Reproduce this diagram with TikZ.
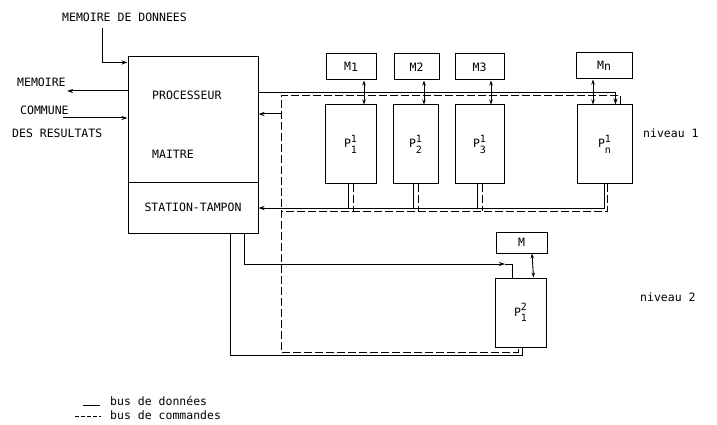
\documentclass[tikz,border=0pt]{standalone}
\usepackage{amsmath}
\usepackage{fontspec}
\setmainfont{DejaVu Sans Mono}
\usetikzlibrary{arrows.meta, positioning, calc}

\newcommand{\procidx}[2]{P\rlap{\raisebox{5.5pt}{\fontsize{10}{10}\selectfont #1}}\raisebox{-5.5pt}{\fontsize{10}{10}\selectfont #2}}
\newcommand{\memidx}[1]{M\lower1.5pt\hbox{#1}}

\begin{document}
\begin{tikzpicture}[x=1pt, y=-1pt,
  font=\fontsize{11.5}{13}\selectfont,
  blk/.style={draw, line width=1pt, inner sep=0pt},
  bus/.style={line width=1pt},
  cmd/.style={line width=1pt, dash pattern=on 8pt off 3pt},
  lbl/.style={inner sep=0pt},
  arr/.style={-{Stealth[length=6pt, width=4pt]}},
  darr/.style={line width=0.9pt, {Stealth[length=5pt, width=3.5pt]}-{Stealth[length=5pt, width=3.5pt]}}
]
\useasboundingbox (0,0) rectangle (717,425);

% Master processor
\node[blk, minimum width=130pt, minimum height=125pt] (proc) at (193,119.5) {};
\node[blk, minimum width=130pt, minimum height=51pt] (stat) at (193,207.5) {STATION-TAMPON};
\node[lbl, anchor=west] (tproc) at (152,95) {PROCESSEUR};
\node[lbl, anchor=west] (tmait) at (152,154) {MAITRE};

% Outside labels
\node[lbl, anchor=west] (tmd) at (62,17) {MEMOIRE DE DONNEES};
\node[lbl, anchor=west] (tmem) at (17,82) {MEMOIRE};
\node[lbl, anchor=west] (tcom) at (20,110) {COMMUNE};
\node[lbl, anchor=west] (tres) at (12,133) {DES RESULTATS};
\node[lbl, anchor=west] (niv1) at (643,133) {niveau 1};
\node[lbl, anchor=west] (niv2) at (640,297) {niveau 2};

% Level 1 memories and processors
\node[blk, minimum width=50pt, minimum height=26pt] (m1) at (351,67) {\memidx{1}};
\node[blk, minimum width=45pt, minimum height=26pt] (m2) at (416.5,67) {M2};
\node[blk, minimum width=49pt, minimum height=26pt] (m3) at (479.5,67) {M3};
\node[blk, minimum width=56pt, minimum height=26pt] (mn) at (604,66) {\memidx{n}};

\node[blk, minimum width=51pt, minimum height=78pt] (p1) at (350.5,144) {\procidx{1}{1}};
\node[blk, minimum width=45pt, minimum height=78pt] (p2) at (415.5,144) {\procidx{1}{2}};
\node[blk, minimum width=49pt, minimum height=78pt] (p3) at (479.5,144) {\procidx{1}{3}};
\node[blk, minimum width=55pt, minimum height=78pt] (pn) at (604.5,144) {\procidx{1}{n}};

% Level 2
\node[blk, minimum width=51pt, minimum height=21pt] (m) at (521.5,242.5) {M};
\node[blk, minimum width=51pt, minimum height=69pt] (q) at (520.5,312.5) {\procidx{2}{1}};

% Helper points
\coordinate (mem) at (67,91);
\coordinate (com) at (63,118);
\coordinate (cb) at (281,96);
\coordinate (ytop) at (0,93);
\coordinate (ycmd) at (0,114);
\coordinate (ydb) at (0,208);
\coordinate (ycb) at (0,211);
\coordinate (q2in) at (505,264);
\coordinate (ycl) at (0,352);
\coordinate (ysb) at (0,355);

% Master inputs and outputs
\draw[bus, arr] ([xshift=40pt, yshift=-6pt]tmd.south west) |- ([yshift=-6pt]proc.north west);
\draw[bus, arr] (proc.west |- mem) -- (mem);
\draw[bus, arr] (com) -- (proc.west |- com);

% Data buses, level 1
\draw[bus, arr] (proc.east |- ytop) -| ([xshift=-17pt]pn.north east);
\draw[bus, arr] (pn.south) |- (stat.east |- ydb);
\draw[bus] ([xshift=-2.5pt]p1.south) -- ([xshift=-2.5pt]p1.south |- ydb);
\draw[bus] ([xshift=-2.5pt]p2.south) -- ([xshift=-2.5pt]p2.south |- ydb);
\draw[bus] ([xshift=-2.5pt]p3.south) -- ([xshift=-2.5pt]p3.south |- ydb);

% Command buses
\draw[cmd] ([xshift=-12pt]pn.north east) |- (cb) -- (cb |- ycl) -| ([xshift=-2.5pt]q.south);
\draw[cmd] ([xshift=3pt]pn.south) |- (cb |- ycb);
\draw[cmd] ([xshift=2.5pt]p1.south) -- ([xshift=2.5pt]p1.south |- ycb);
\draw[cmd] ([xshift=2.5pt]p2.south) -- ([xshift=2.5pt]p2.south |- ycb);
\draw[cmd] ([xshift=2.5pt]p3.south) -- ([xshift=2.5pt]p3.south |- ycb);
\draw[bus, arr] (cb |- ycmd) -- (proc.east |- ycmd);

% Memory links
\draw[darr] ([xshift=13pt]m1.south) -- ([xshift=13pt]m1.south |- p1.north);
\draw[darr] ([xshift=7.5pt]m2.south) -- ([xshift=7.5pt]m2.south |- p2.north);
\draw[darr] ([xshift=11.5pt]m3.south) -- ([xshift=11.5pt]m3.south |- p3.north);
\draw[darr] ([xshift=-11pt]mn.south) -- ([xshift=-11pt]mn.south |- pn.north);
\draw[darr] ([xshift=10.5pt]m.south) -- ([xshift=13pt]q.north);

% Level 2 links
\draw[bus, arr] ([xshift=51pt]stat.south) |- (q2in);
\draw[bus] (q2in) -| ([xshift=-8.5pt]q.north);
\draw[bus] ([xshift=37pt]stat.south) -- ([xshift=37pt]stat.south |- ysb) -| ([xshift=1.5pt]q.south);

% Legend
\coordinate (lg1) at (83,405);
\coordinate (lg2) at (75,419);
\node[lbl, anchor=base west] (tdon) at (110,405) {bus de données};
\node[lbl, anchor=base west] (tcmd) at (110,419) {bus de commandes};
\draw[bus] (lg1) -- (lg1 -| 100,0);
\draw[line width=0.9pt, dash pattern=on 4pt off 2pt] ([yshift=3pt]lg2) -- ([yshift=3pt]lg2 -| 101,0);

\end{tikzpicture}
\end{document}
